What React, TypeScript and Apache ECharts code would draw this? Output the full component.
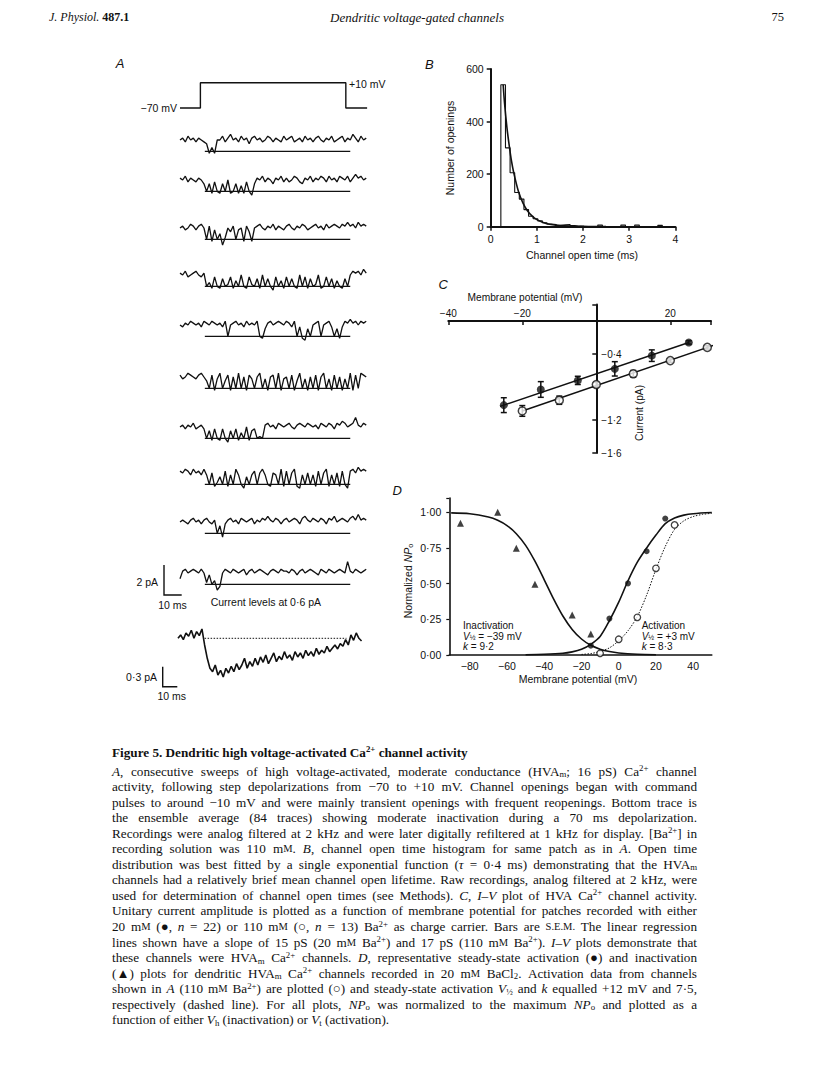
import React, { useEffect, useRef } from 'react';
import * as echarts from 'echarts';

const SANS = '"Liberation Sans", Arial, Helvetica, sans-serif';
const SERIF = '"Liberation Serif", "Times New Roman", serif';
const INK = '#111111';

// ---------- Panel A: command step ----------
const STEP_T_MS = [0, 11.5, 11.5, 93.5, 93.5, 105.5];
const STEP_MV = [-70, -70, 10, 10, -70, -70];

// ---------- Panel A: consecutive sweeps (0.1 pA units, 1.5 ms samples) ----------
const SAMPLE_MS = 1.5;
const OPEN_LEVEL = -6; // -0.6 pA
const OPEN_LINE_MS = [14, 96];
const SWEEP_1 = [0,1,-1,2,0,1,-1,1,0,-1, -2,-7,-4,-7,0,0,2,-1,1,3, 0,1,-1,2,0,1,-2,1,2,0, 1,-1,0,2,1,-1,1,0,-1,2, 0,1,2,-1,0,1,-1,2,0,1, -1,1,2,0,-1,1,0,2,-1,0, 1,2,-1,1,0,3,1,-1,2,0,1];
const SWEEP_2 = [1,0,2,-1,1,0,-1,1,0,-2, -6,-2,-7,-1,-6,-7,-2,-6,0,-7, -6,-2,-7,-3,-7,-1,-6,-8,-2,1, 0,2,-1,1,0,-2,1,0,2,-1, 1,-1,0,2,1,-1,-2,1,0,2, -1,1,0,2,1,-1,2,0,1,-1, 2,1,0,2,-1,1,3,1,2,0,1];
const SWEEP_3 = [0,1,-1,0,2,1,-1,1,2,0, -6,1,-7,-1,-6,-3,-9,-5,0,-2, 1,-6,-1,0,-7,1,-2,-7,0,1, 2,0,-1,1,0,2,-1,1,0,-1, 1,2,0,-1,1,0,2,1,-1,0, 1,2,0,1,-1,2,0,1,2,1, 0,2,1,3,1,2,0,3,1,2,1];
const SWEEP_4 = [1,0,2,-1,0,1,2,0,-1,1, -6,-4,-7,-1,-6,-7,-2,-6,-5,-1, -7,-3,-6,0,-6,-7,-1,-5,-6,-2, -7,0,-6,-2,-6,-8,-1,-6,-3,-7, -1,-6,-2,-6,-7,0,-6,-1,-7,-2, -6,-5,0,-7,-6,-1,-6,-2,-7,-3, -6,-7,-2,-6,0,2,1,2,0,3,1];
const SWEEP_5 = [0,-1,1,0,2,1,0,1,-1,2, 1,0,2,1,0,1,-1,2,-6,0, 1,2,0,1,-1,2,0,1,0,2, -6,-7,-2,1,2,0,1,2,1,0, 2,1,-1,2,-6,-1,-7,-8,-2,-6, 0,1,2,-6,0,1,2,-1,-6,-2, -7,-1,2,1,3,1,2,0,2,1,2];
const SWEEP_6 = [1,-1,0,2,1,0,-1,1,2,0, -2,-6,1,-7,-1,2,-6,-2,1,-7, 0,-6,2,-6,0,-7,1,-1,-6,0, 2,-6,-1,-7,0,1,-6,2,-7,-1, 0,-6,1,-7,-2,2,-6,-1,-7,0, -6,1,-7,0,2,-6,-1,-7,1,-6, 0,-7,-1,-6,2,-7,1,-6,2,1,0];
const SWEEP_7 = [0,1,-1,1,0,2,-1,0,1,-1, -6,-2,-7,-1,-6,-7,-1,-6,-8,-2, -6,-1,-7,-3,-6,0,-7,-2,-1,-6, -5,-6,1,2,0,1,-1,2,1,0, 1,2,0,-1,1,2,1,0,2,1, 0,1,-1,2,1,0,2,1,-1,2, 1,3,2,0,1,2,5,1,0,2,1];
const SWEEP_8 = [1,0,2,1,-1,2,0,1,-1,2, -1,-6,0,-7,-5,-2,-6,1,-7,-1, -6,2,-1,-6,-8,-2,-6,-1,1,-6, 0,2,-1,-6,-7,0,-1,-6,2,-7, 1,-6,0,2,-7,-8,-1,-6,0,-6, -1,-7,1,-6,0,2,-7,-1,-6,0, -7,1,-6,-8,1,2,0,3,1,2,1];
const SWEEP_9 = [0,1,0,-1,1,2,0,1,-1,1, 2,0,-1,1,-6,-2,-8,-1,1,2, 0,1,-1,2,1,0,1,2,-1,1, 0,2,1,3,1,0,2,1,-1,1, 2,0,1,2,1,-1,2,3,1,0, 2,1,0,2,1,-1,2,1,3,0, 1,2,1,0,2,3,1,4,1,2,1];
const SWEEP_10 = [-3,1,2,0,1,2,1,0,2,0, -5,-1,-6,-4,-9,-7,0,2,1,0, 2,1,0,1,2,-1,1,2,0,1, 2,1,0,-1,1,2,1,0,2,1, 1,0,2,1,-1,1,2,0,1,2, 1,0,-1,2,1,0,2,1,0,1, 2,1,0,6,1,0,2,1,0,1,2];
const SWEEPS = [SWEEP_1, SWEEP_2, SWEEP_3, SWEEP_4, SWEEP_5, SWEEP_6, SWEEP_7, SWEEP_8, SWEEP_9, SWEEP_10];

// ---------- Panel A: ensemble average (pA) ----------
const AVERAGE_PA = [
  0.00,0.05,-0.02,0.08,0.03,0.12,0.00,0.10,0.04,0.14,
  -0.10,-0.30,-0.45,-0.50,-0.40,-0.55,-0.48,-0.58,-0.45,-0.52,
  -0.42,-0.50,-0.38,-0.47,-0.40,-0.30,-0.45,-0.35,-0.42,-0.30,
  -0.40,-0.28,-0.36,-0.25,-0.38,-0.30,-0.22,-0.35,-0.27,-0.32,
  -0.20,-0.30,-0.25,-0.33,-0.20,-0.28,-0.22,-0.30,-0.18,-0.26,
  -0.20,-0.27,-0.15,-0.24,-0.18,-0.22,-0.12,-0.20,-0.15,-0.10,
  -0.16,-0.08,-0.12,-0.02,-0.10,0.05,-0.03,0.08,0.00,-0.04];
const AVG_BASE_MS = [15, 95];

// ---------- Panel B: open-time histogram ----------
const HIST_START_MS = 0.22;
const HIST_BIN_MS = 0.1;
const HIST_COUNTS = [540,300,205,130,105,65,40,30,22,15,10,8,5,7,8,4,2,2,1,1,1,6,1,1,0,0,6,1,0,6,1,0,0,1,5,1];
const FIT_T_MS = [0.27,0.3,0.35,0.4,0.45,0.5,0.6,0.7,0.8,0.9,1.0,1.2,1.4,1.6,1.8,2.0,2.5,3.0,3.5,3.8];
const FIT_COUNT = [540,470,380,310,250,205,135,90,60,40,27,12,6,3,1.5,0.8,0.2,0,0,0];

// ---------- Panel C: I-V ----------
const CLOSED_MV = [-25, -15, -5, 5, 15, 25];
const CLOSED_PA = [-1.02, -0.83, -0.72, -0.58, -0.42, -0.26];
const CLOSED_SEM = [0.09, 0.095, 0.05, 0.087, 0.07, 0.02];
const OPEN_MV = [-20, -10, 0, 10, 20, 30];
const OPEN_PA = [-1.09, -0.96, -0.77, -0.64, -0.48, -0.32];
const OPEN_SEM = [0.065, 0.05, 0.03, 0.04, 0.02, 0.02];
const REG_CLOSED_MV = [-26, 25];
const REG_CLOSED_PA = [-1.035, -0.26];
const REG_OPEN_MV = [-20, 32];
const REG_OPEN_PA = [-1.09, -0.29];

// ---------- Panel D: activation / inactivation ----------
const INACT_MV = [-85, -65, -55, -45, -25, -15];
const INACT_NP = [0.923, 1.0, 0.748, 0.495, 0.28, 0.147];
const ACT_MV = [-15, -5, 5, 15, 25];
const ACT_NP = [0.065, 0.255, 0.502, 0.727, 0.956];
const ACT110_MV = [-10, 0, 10, 20, 30];
const ACT110_NP = [0.012, 0.11, 0.264, 0.607, 0.911];
const INACT_FIT_MV = [-90,-80,-70,-65,-60,-55,-50,-45,-40,-35,-30,-25,-20,-15,-10,-5,0,10,20];
const INACT_FIT_NP = [0.996,0.99,0.967,0.944,0.907,0.85,0.768,0.657,0.527,0.393,0.273,0.179,0.112,0.068,0.041,0.024,0.014,0.005,0.002];
const ACT_FIT_MV = [-50,-40,-30,-25,-20,-15,-10,-5,0,5,10,15,20,25,30,35,40,50];
const ACT_FIT_NP = [0.002,0.005,0.012,0.022,0.04,0.075,0.13,0.24,0.37,0.52,0.65,0.75,0.84,0.92,0.96,0.98,0.99,0.998];
const ACT110_FIT_MV = [-20,-15,-10,-5,0,5,10,15,20,25,30,35,40,45,50];
const ACT110_FIT_NP = [0.004,0.01,0.025,0.05,0.1,0.17,0.27,0.42,0.6,0.76,0.88,0.94,0.97,0.985,0.993];

// ---------- Caption ----------
const CAPTION_TITLE = 'Figure 5. Dendritic high voltage-activated Ca{sup|2+} channel activity';
const CAPTION_LINES = [
  '{i|A}, consecutive sweeps of high voltage-activated, moderate conductance (HVA{sub|m}; 16 pS) Ca{sup|2+} channel',
  'activity, following step depolarizations from −70 to +10 mV. Channel openings began with command',
  'pulses to around −10 mV and were mainly transient openings with frequent reopenings. Bottom trace is',
  'the ensemble average (84 traces) showing moderate inactivation during a 70 ms depolarization.',
  'Recordings were analog filtered at 2 kHz and were later digitally refiltered at 1 kHz for display. [Ba{sup|2+}] in',
  'recording solution was 110 m{sc|M}. {i|B}, channel open time histogram for same patch as in {i|A}. Open time',
  'distribution was best fitted by a single exponential function ({i|τ} = 0·4 ms) demonstrating that the HVA{sub|m}',
  'channels had a relatively brief mean channel open lifetime. Raw recordings, analog filtered at 2 kHz, were',
  'used for determination of channel open times (see Methods). {i|C}, {i|I–V} plot of HVA Ca{sup|2+} channel activity.',
  'Unitary current amplitude is plotted as a function of membrane potential for patches recorded with either',
  '20 m{sc|M} (●, {i|n} = 22) or 110 m{sc|M} (○, {i|n} = 13) Ba{sup|2+} as charge carrier. Bars are {sc|S.E.M.} The linear regression',
  'lines shown have a slope of 15 pS (20 m{sc|M} Ba{sup|2+}) and 17 pS (110 m{sc|M} Ba{sup|2+}). {i|I–V} plots demonstrate that',
  'these channels were HVA{sub|m} Ca{sup|2+} channels. {i|D}, representative steady-state activation (●) and inactivation',
  '(▲) plots for dendritic HVA{sub|m} Ca{sup|2+} channels recorded in 20 m{sc|M} BaCl{sub|2}. Activation data from channels',
  'shown in {i|A} (110 m{sc|M} Ba{sup|2+}) are plotted (○) and steady-state activation {i|V}{sub|½} and {i|k} equalled +12 mV and 7·5,',
  'respectively (dashed line). For all plots, {i|NP}{sub|o} was normalized to the maximum {i|NP}{sub|o} and plotted as a',
  'function of either {i|V}{sub|h} (inactivation) or {i|V}{sub|t} (activation).',
];

// ---------- layout ----------
const SWEEP_BASE_Y = [140, 180, 228, 275, 325, 377, 427, 473, 522, 573];
const SWEEP_PX_PER_UNIT = 1.9;
const AVG_PX_PER_PA = 66.7;
const CAP_L = 112, CAP_R = 697, CAP_TITLE_Y = 752, CAP_Y0 = 771, CAP_DY = 15.55;
const CAP_FS = 13.2, CAP_SMALL = 8.8, CAP_SC = 10.5;

const fmtNum = (v: number, d: number) => {
  const s = Math.abs(v).toFixed(d).replace('.', '·');
  return v < -1e-9 ? '−' + s : s;
};

function T(x: number, y: number, text: string, o: any = {}) {
  const align = o.align ?? 'left';
  return {
    type: 'text', x, y, rotation: o.rotation ?? 0, silent: true, z: 10,
    style: {
      text, fill: INK,
      fontFamily: o.family ?? SANS, fontSize: o.size ?? 10.5,
      fontStyle: o.italic ? 'italic' : 'normal', fontWeight: o.bold ? 'bold' : 'normal',
      align, verticalAlign: 'middle', textAlign: align, textVerticalAlign: 'middle',
      lineHeight: o.lineHeight, rich: o.rich,
    },
  };
}

const sansRich = (s: number, lh: number) => ({
  i: { fontStyle: 'italic', fontFamily: SANS, fontSize: s, lineHeight: lh },
  sub: { fontFamily: SANS, fontSize: s * 0.7, lineHeight: lh / 2, verticalAlign: 'bottom' },
});

function captionElements(): any[] {
  const cv = document.createElement('canvas');
  const ctx = cv.getContext('2d') as CanvasRenderingContext2D;
  const fontFor = (st: string, bold: boolean) => {
    const w = bold ? 'bold ' : '';
    if (st === 'i') return `italic ${w}${CAP_FS}px ${SERIF}`;
    if (st === 'sup' || st === 'sub') return `${w}${CAP_SMALL}px ${SERIF}`;
    if (st === 'sc') return `${w}${CAP_SC}px ${SERIF}`;
    return `${w}${CAP_FS}px ${SERIF}`;
  };
  const wordWidth = (word: string, bold: boolean) => {
    const re = /\{(\w+)\|([^}]*)\}|([^{]+)/g;
    let m: RegExpExecArray | null; let total = 0;
    while ((m = re.exec(word))) {
      const st = m[1] || ''; const t = m[1] ? m[2] : m[3];
      ctx.font = fontFor(st, bold);
      total += ctx.measureText(t).width;
    }
    return total;
  };
  const rich = (bold: boolean) => {
    const fw = bold ? 'bold' : 'normal';
    return {
      i: { fontStyle: 'italic', fontWeight: fw, fontFamily: SERIF, fontSize: CAP_FS, lineHeight: 15 },
      sup: { fontWeight: fw, fontFamily: SERIF, fontSize: CAP_SMALL, lineHeight: 8, verticalAlign: 'top' },
      sub: { fontWeight: fw, fontFamily: SERIF, fontSize: CAP_SMALL, lineHeight: 8, verticalAlign: 'bottom' },
      sc: { fontWeight: fw, fontFamily: SERIF, fontSize: CAP_SC, lineHeight: 15 },
    };
  };
  const els: any[] = [];
  const addLine = (line: string, y: number, justify: boolean, bold: boolean) => {
    const words = line.split(' ');
    const widths = words.map((w) => wordWidth(w, bold));
    const total = widths.reduce((a, b) => a + b, 0);
    ctx.font = fontFor('', bold);
    const space = ctx.measureText(' ').width;
    const gap = justify && words.length > 1 ? Math.max(1.5, (CAP_R - CAP_L - total) / (words.length - 1)) : space;
    let x = CAP_L;
    words.forEach((w, i) => {
      els.push(T(x, y, w, { family: SERIF, size: CAP_FS, bold, rich: rich(bold), lineHeight: 15 }));
      x += widths[i] + gap;
    });
  };
  addLine(CAPTION_TITLE, CAP_TITLE_Y, false, true);
  CAPTION_LINES.forEach((l, i) => addLine(l, CAP_Y0 + i * CAP_DY, i < CAPTION_LINES.length - 1, false));
  return els;
}

function buildOption() {
  const grid: any[] = [], xAxis: any[] = [], yAxis: any[] = [], series: any[] = [];
  const add = (g: any, x: any, y: any) => {
    grid.push({ ...g, containLabel: false, outerBoundsMode: 'none' });
    const gi = grid.length - 1;
    xAxis.push({ ...x, gridIndex: gi });
    yAxis.push({ ...y, gridIndex: gi });
    return gi;
  };
  const hidden = (min: number, max: number) => ({ type: 'value', min, max, show: false });
  const line = (gi: number, data: any[], ls: any = {}, extra: any = {}) =>
    series.push({
      type: 'line', xAxisIndex: gi, yAxisIndex: gi, data, symbol: 'none', silent: true,
      clip: false, lineStyle: { color: INK, width: 1.2, ...ls }, z: 2, ...extra,
    });
  const lab = { color: INK, fontFamily: SANS, fontSize: 10.5 };

  // ---- Panel A ----
  const gStep = add({ left: 180, top: 82.7, width: 188, height: 25.3 }, hidden(0, 106), hidden(-70, 10));
  line(gStep, STEP_T_MS.map((t, i) => [t, STEP_MV[i]]), { width: 1.4 });

  SWEEPS.forEach((sw, k) => {
    const base = SWEEP_BASE_Y[k];
    const gi = add(
      { left: 180, top: base - 5 * SWEEP_PX_PER_UNIT, width: 188, height: 15 * SWEEP_PX_PER_UNIT },
      hidden(0, 106), hidden(-10, 5));
    line(gi, sw.map((v, j) => [j * SAMPLE_MS, v]), { width: 1.3 });
    line(gi, OPEN_LINE_MS.map((t) => [t, OPEN_LEVEL]), { width: 1.1 });
  });

  const gAvg = add(
    { left: 178, top: 638.3 - 0.25 * AVG_PX_PER_PA, width: 188, height: 0.95 * AVG_PX_PER_PA },
    hidden(0, 106), hidden(-0.7, 0.25));
  line(gAvg, AVERAGE_PA.map((v, j) => [j * SAMPLE_MS, v]), { width: 1.6 });
  line(gAvg, AVG_BASE_MS.map((t) => [t, 0]), { width: 1, type: [1.5, 1.5] });

  // ---- Panel B ----
  const gB = add(
    { left: 490.7, top: 69, width: 184.6, height: 157.7 },
    {
      type: 'value', min: 0, max: 4, interval: 1,
      axisLine: { show: true, onZero: false, lineStyle: { color: INK, width: 2 } },
      axisTick: { show: true, length: 4, lineStyle: { color: INK, width: 1.5 } },
      axisLabel: { ...lab, margin: 7 }, splitLine: { show: false },
    },
    {
      type: 'value', min: 0, max: 600, interval: 200,
      axisLine: { show: true, onZero: false, lineStyle: { color: INK, width: 2 } },
      axisTick: { show: true, length: 4, lineStyle: { color: INK, width: 1.5 } },
      axisLabel: { ...lab, margin: 7 }, splitLine: { show: false },
    });
  const histPts: number[][] = [[HIST_START_MS, 0]];
  HIST_COUNTS.forEach((c, i) => {
    const x0 = HIST_START_MS + i * HIST_BIN_MS;
    histPts.push([x0, c], [x0 + HIST_BIN_MS, c]);
  });
  histPts.push([HIST_START_MS + HIST_COUNTS.length * HIST_BIN_MS, 0]);
  line(gB, histPts, { width: 1.1 });
  line(gB, FIT_T_MS.map((t, i) => [t, FIT_COUNT[i]]), { width: 1.6 }, { smooth: 0.3 });

  // ---- Panel C ----
  const C_LEFT = 448.3, C_TOP = 304.5, C_W = 262.7, C_H = 148.5;
  const C_XMIN = -40, C_XMAX = 31, C_YMIN = -1.6, C_YMAX = 0.2;
  const gC = add(
    { left: C_LEFT, top: C_TOP, width: C_W, height: C_H },
    {
      type: 'value', min: C_XMIN, max: C_XMAX, interval: 20, position: 'top',
      offset: -(C_YMAX / (C_YMAX - C_YMIN)) * C_H,
      axisLine: { show: true, onZero: false, lineStyle: { color: INK, width: 2 } },
      axisTick: { show: true, inside: true, length: 4, lineStyle: { color: INK, width: 1.5 } },
      axisLabel: {
        ...lab, fontSize: 10, margin: 3,
        formatter: (v: number) => (Math.abs(v) < 1e-9 || v > 25 ? '' : fmtNum(v, 0)),
      },
      splitLine: { show: false },
    },
    {
      type: 'value', min: C_YMIN, max: C_YMAX, interval: 0.4, position: 'left',
      offset: -((0 - C_XMIN) / (C_XMAX - C_XMIN)) * C_W,
      axisLine: { show: true, onZero: false, lineStyle: { color: INK, width: 2 } },
      axisTick: { show: true, length: 4, lineStyle: { color: INK, width: 1.5 } },
      axisLabel: {
        ...lab, fontSize: 10, inside: true, margin: 5,
        formatter: (v: number) => {
          const r = Math.round(v * 10) / 10;
          return r === -0.4 || r === -1.2 || r === -1.6 ? fmtNum(r, 1) : '';
        },
      },
      splitLine: { show: false },
    });
  line(gC, REG_CLOSED_MV.map((v, i) => [v, REG_CLOSED_PA[i]]), { width: 1.5 });
  line(gC, REG_OPEN_MV.map((v, i) => [v, REG_OPEN_PA[i]]), { width: 1.5 });
  const errSeries = (xs: number[], ys: number[], es: number[]) => ({
    type: 'custom', xAxisIndex: gC, yAxisIndex: gC, silent: true, z: 3, clip: false,
    data: xs.map((x, i) => [x, ys[i], es[i]]),
    renderItem: (_p: any, api: any) => {
      const x = api.value(0), y = api.value(1), e = api.value(2);
      const a = api.coord([x, y + e]), b = api.coord([x, y - e]);
      const st = { stroke: INK, lineWidth: 1.5 };
      return {
        type: 'group', children: [
          { type: 'line', shape: { x1: a[0], y1: a[1], x2: b[0], y2: b[1] }, style: st },
          { type: 'line', shape: { x1: a[0] - 3, y1: a[1], x2: a[0] + 3, y2: a[1] }, style: st },
          { type: 'line', shape: { x1: b[0] - 3, y1: b[1], x2: b[0] + 3, y2: b[1] }, style: st },
        ],
      };
    },
  });
  series.push(errSeries(CLOSED_MV, CLOSED_PA, CLOSED_SEM));
  series.push(errSeries(OPEN_MV, OPEN_PA, OPEN_SEM));
  series.push({
    type: 'scatter', xAxisIndex: gC, yAxisIndex: gC, silent: true, z: 4, clip: false,
    data: CLOSED_MV.map((v, i) => [v, CLOSED_PA[i]]), symbol: 'circle', symbolSize: 8,
    itemStyle: { color: INK },
  });
  series.push({
    type: 'scatter', xAxisIndex: gC, yAxisIndex: gC, silent: true, z: 4, clip: false,
    data: OPEN_MV.map((v, i) => [v, OPEN_PA[i]]), symbol: 'circle', symbolSize: 8,
    itemStyle: { color: '#fff', borderColor: INK, borderWidth: 1.5 },
  });

  // ---- Panel D ----
  const gD = add(
    { left: 449.3, top: 498, width: 262.5, height: 157 },
    {
      type: 'value', min: -91, max: 50,
      axisLine: { show: true, onZero: false, lineStyle: { color: INK, width: 1.6 } },
      axisTick: { show: false },
      axisLabel: { ...lab, margin: 5, customValues: [-80, -60, -40, -20, 0, 20, 40], formatter: (v: number) => fmtNum(v, 0) },
      splitLine: { show: false },
    },
    {
      type: 'value', min: 0, max: 1.1, interval: 0.25,
      axisLine: { show: true, onZero: false, lineStyle: { color: INK, width: 1.6 } },
      axisTick: { show: true, length: 3, lineStyle: { color: INK, width: 1.2 } },
      axisLabel: { ...lab, margin: 8, formatter: (v: number) => (v > 1.05 ? '' : fmtNum(v, 2)) },
      splitLine: { show: false },
    });
  line(gD, INACT_FIT_MV.map((v, i) => [v, INACT_FIT_NP[i]]), { width: 1.6 }, { smooth: 0.3 });
  line(gD, ACT_FIT_MV.map((v, i) => [v, ACT_FIT_NP[i]]), { width: 1.6 }, { smooth: 0.3 });
  line(gD, ACT110_FIT_MV.map((v, i) => [v, ACT110_FIT_NP[i]]), { width: 1, type: [1.5, 1.5] }, { smooth: 0.3 });
  series.push({
    type: 'scatter', xAxisIndex: gD, yAxisIndex: gD, silent: true, z: 4, clip: false,
    data: INACT_MV.map((v, i) => [v, INACT_NP[i]]), symbol: 'triangle', symbolSize: 7,
    itemStyle: { color: INK },
  });
  series.push({
    type: 'scatter', xAxisIndex: gD, yAxisIndex: gD, silent: true, z: 4, clip: false,
    data: ACT_MV.map((v, i) => [v, ACT_NP[i]]), symbol: 'circle', symbolSize: 6,
    itemStyle: { color: INK },
  });
  series.push({
    type: 'scatter', xAxisIndex: gD, yAxisIndex: gD, silent: true, z: 4, clip: false,
    data: ACT110_MV.map((v, i) => [v, ACT110_NP[i]]), symbol: 'circle', symbolSize: 6.5,
    itemStyle: { color: '#fff', borderColor: INK, borderWidth: 1.3 },
  });

  // ---- graphic texts ----
  const g: any[] = [];
  // header
  g.push(T(49, 17, '{i|J. Physiol.} {b|487.1}', {
    family: SERIF, size: 12,
    rich: { i: { fontStyle: 'italic', fontFamily: SERIF, fontSize: 12 }, b: { fontWeight: 'bold', fontFamily: SERIF, fontSize: 12 } },
  }));
  g.push(T(417, 17, 'Dendritic voltage-gated channels', { family: SERIF, size: 13, italic: true, align: 'center' }));
  g.push(T(784, 17, '75', { family: SERIF, size: 12.5, align: 'right' }));
  // panel letters
  g.push(T(120, 63, 'A', { size: 13, italic: true, align: 'center' }));
  g.push(T(429.3, 64, 'B', { size: 13, italic: true, align: 'center' }));
  g.push(T(443.3, 284, 'C', { size: 13, italic: true, align: 'center' }));
  g.push(T(397.3, 490, 'D', { size: 13, italic: true, align: 'center' }));
  // panel A labels
  g.push(T(177, 108, '−70 mV', { align: 'right' }));
  g.push(T(349, 84.3, '+10 mV'));
  g.push({ type: 'polyline', silent: true, shape: { points: [[164, 565], [164, 595], [181.7, 595]] }, style: { stroke: INK, lineWidth: 1.4, fill: null } });
  g.push(T(158, 582, '2 pA', { align: 'right' }));
  g.push(T(172.5, 604.5, '10 ms', { align: 'center' }));
  g.push(T(210.7, 602, 'Current levels at 0·6 pA'));
  g.push({ type: 'polyline', silent: true, shape: { points: [[162.7, 666.7], [162.7, 686.7], [177.3, 686.7]] }, style: { stroke: INK, lineWidth: 1.4, fill: null } });
  g.push(T(157, 677, '0·3 pA', { align: 'right' }));
  g.push(T(171.7, 696, '10 ms', { align: 'center' }));
  // panel B titles
  g.push(T(582, 255, 'Channel open time (ms)', { align: 'center' }));
  g.push(T(450, 148, 'Number of openings', { align: 'center', rotation: Math.PI / 2 }));
  // panel C titles
  g.push(T(525, 297, 'Membrane potential (mV)', { size: 10.2, align: 'center' }));
  g.push(T(639, 413, 'Current (pA)', { size: 10.2, align: 'center', rotation: Math.PI / 2 }));
  // panel D titles
  g.push(T(578, 679, 'Membrane potential (mV)', { align: 'center' }));
  g.push(T(408, 581, 'Normalized {i|NP}{sub|o}', { align: 'center', rotation: Math.PI / 2, rich: sansRich(10.5, 12), lineHeight: 12 }));
  const annot = { size: 10, lineHeight: 10, rich: sansRich(10, 10) };
  g.push(T(463, 625.5, 'Inactivation', annot));
  g.push(T(463, 636, '{i|V}{sub|½} = −39 mV', annot));
  g.push(T(463, 646.5, '{i|k} = 9·2', annot));
  g.push(T(641.7, 625.5, 'Activation', annot));
  g.push(T(641.7, 636, '{i|V}{sub|½} = +3 mV', annot));
  g.push(T(641.7, 646.5, '{i|k} = 8·3', annot));
  // caption
  captionElements().forEach((e) => g.push(e));

  return {
    animation: false,
    backgroundColor: '#ffffff',
    grid, xAxis, yAxis, series,
    graphic: { elements: g },
  };
}

export default function App() {
  const ref = useRef<HTMLDivElement>(null);
  useEffect(() => {
    if (!ref.current) return;
    const chart = echarts.init(ref.current, null, { renderer: 'svg' });
    chart.setOption(buildOption() as any);
    return () => chart.dispose();
  }, []);
  return (
    <div
      ref={ref}
      style={{ position: 'absolute', left: 0, top: 0, width: 816, height: 1088, background: '#fff' }}
    />
  );
}
